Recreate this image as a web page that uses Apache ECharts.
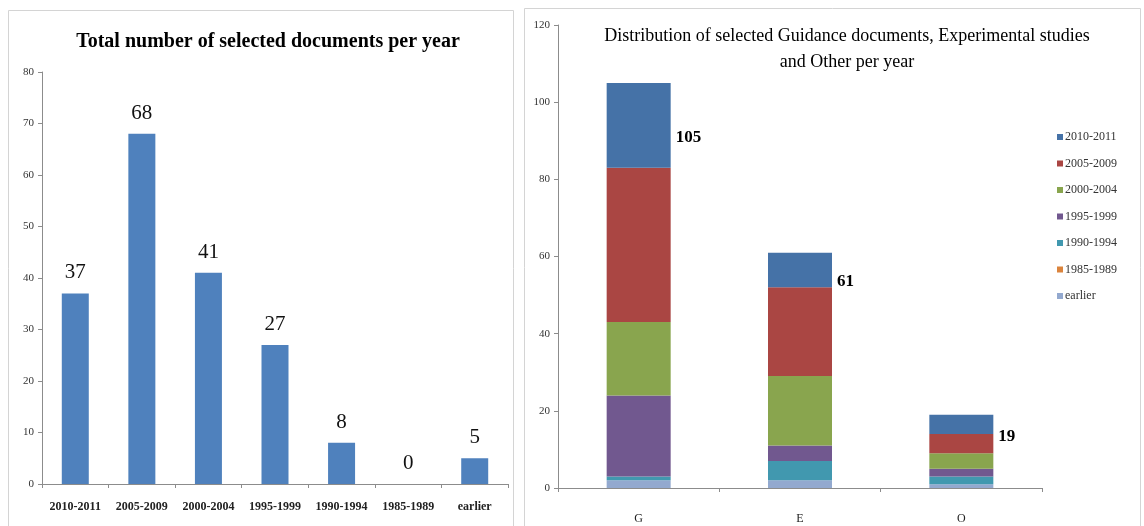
<!DOCTYPE html>
<html>
<head>
<meta charset="utf-8">
<style>
  html, body { margin: 0; padding: 0; background: #fff; }
  #chart { width: 1144px; height: 526px; }
</style>
<script src="https://cdn.jsdelivr.net/npm/echarts@6/dist/echarts.min.js"></script>
</head>
<body>
<div id="chart"></div>
<script>
// Period categories (left panel) and totals per period
const periods = ['2010-2011', '2005-2009', '2000-2004', '1995-1999', '1990-1994', '1985-1989', 'earlier'];
const totals = [37, 68, 41, 27, 8, 0, 5];

// Document types (right panel)
const docTypes = ['G', 'E', 'O'];

// Documents per period, for each type [G, E, O]
const p2010_2011 = [22, 9, 5];
const p2005_2009 = [40, 23, 5];
const p2000_2004 = [19, 18, 4];
const p1995_1999 = [21, 4, 2];
const p1990_1994 = [1, 5, 2];
const p1985_1989 = [0, 0, 0];
const pEarlier = [2, 2, 1];

const leftTicks = [0, 80, 10];   // min, max, step
const rightTicks = [0, 120, 20];

const serif = '"Liberation Serif", "DejaVu Serif", serif';
const stackColors = ['#4572A7', '#AA4643', '#89A54E', '#71588F', '#4198AF', '#DB843D', '#93A9CF'];
const stackData = [p2010_2011, p2005_2009, p2000_2004, p1995_1999, p1990_1994, p1985_1989, pEarlier];

// Stacked series: drawn bottom-up so 'earlier' sits at the base
const stackSeries = [];
for (let i = stackData.length - 1; i >= 0; i--) {
  const s = {
    name: periods[i],
    type: 'bar',
    xAxisIndex: 1,
    yAxisIndex: 1,
    stack: 'docs',
    barWidth: 64,
    itemStyle: { color: stackColors[i] },
    data: stackData[i]
  };
  if (i === 0) {
    // total of each stack, written beside its top segment
    s.label = {
      show: true,
      position: 'right',
      distance: 5,
      offset: [0, 12],
      fontFamily: serif,
      fontWeight: 'bold',
      fontSize: 17,
      color: '#000',
      formatter: p => String(stackData.reduce((a, arr) => a + arr[p.dataIndex], 0))
    };
  }
  stackSeries.push(s);
}

const axisLineStyle = { lineStyle: { color: '#8c8c8c', width: 1 } };

const chart = echarts.init(document.getElementById('chart'), null, { renderer: 'canvas' });
chart.setOption({
  backgroundColor: '#fff',
  animation: false,
  graphic: [
    { type: 'rect', shape: { x: 8.5, y: 10.5, width: 505, height: 520 }, style: { fill: 'none', stroke: '#d4d4d4', lineWidth: 1 } },
    { type: 'rect', shape: { x: 524.5, y: 8.5, width: 616, height: 522 }, style: { fill: 'none', stroke: '#d4d4d4', lineWidth: 1 } }
  ],
  title: [
    {
      text: 'Total number of selected documents per year',
      left: 263, top: 27, textAlign: 'center',
      textStyle: { fontFamily: serif, fontWeight: 'bold', fontSize: 20, color: '#000' }
    },
    {
      text: 'Distribution of selected Guidance documents, Experimental studies\nand Other per year',
      left: 842, top: 18, textAlign: 'center',
      textStyle: { fontFamily: serif, fontWeight: 'normal', fontSize: 18, lineHeight: 26, color: '#000' }
    }
  ],
  legend: {
    orient: 'vertical',
    left: 1052, top: 126,
    itemWidth: 6, itemHeight: 6, itemGap: 14.5,
    icon: 'rect',
    data: periods,
    textStyle: { fontFamily: serif, fontSize: 12, color: '#333', padding: [0, 0, 0, -3] }
  },
  grid: [
    { left: 42, right: 636, top: 72, bottom: 42 },
    { left: 558, right: 102, top: 25, bottom: 38 }
  ],
  xAxis: [
    {
      type: 'category', gridIndex: 0, data: periods,
      axisLine: axisLineStyle,
      axisTick: { show: true, alignWithLabel: false, length: 4, lineStyle: { color: '#8c8c8c' } },
      axisLabel: { fontFamily: serif, fontSize: 12, fontWeight: 'bold', color: '#222', margin: 17, interval: 0 }
    },
    {
      type: 'category', gridIndex: 1, data: docTypes,
      axisLine: axisLineStyle,
      axisTick: { show: true, length: 4, lineStyle: { color: '#8c8c8c' } },
      axisLabel: { fontFamily: serif, fontSize: 12, color: '#222', margin: 25 }
    }
  ],
  yAxis: [
    {
      type: 'value', gridIndex: 0,
      min: leftTicks[0], max: leftTicks[1], interval: leftTicks[2],
      axisLine: { show: true, lineStyle: { color: '#8c8c8c' } },
      axisTick: { show: true, length: 4, lineStyle: { color: '#8c8c8c' } },
      splitLine: { show: false },
      axisLabel: { fontFamily: serif, fontSize: 11, color: '#333', margin: 8 }
    },
    {
      type: 'value', gridIndex: 1,
      min: rightTicks[0], max: rightTicks[1], interval: rightTicks[2],
      axisLine: { show: true, lineStyle: { color: '#8c8c8c' } },
      axisTick: { show: true, length: 4, lineStyle: { color: '#8c8c8c' } },
      splitLine: { show: false },
      axisLabel: { fontFamily: serif, fontSize: 11, color: '#333', margin: 8 }
    }
  ],
  series: [
    {
      name: 'Total',
      type: 'bar',
      xAxisIndex: 0,
      yAxisIndex: 0,
      barWidth: 27,
      itemStyle: { color: '#4F81BD' },
      label: {
        show: true, position: 'top', distance: 10,
        fontFamily: serif, fontSize: 21, color: '#111'
      },
      data: totals
    },
    ...stackSeries
  ]
});
</script>
</body>
</html>
